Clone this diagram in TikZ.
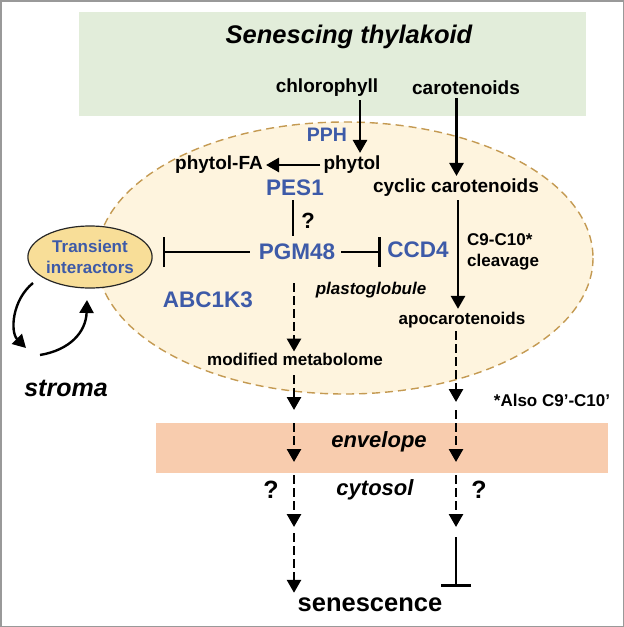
\documentclass[tikz,border=0pt]{standalone}
\usepackage{fontspec}
\setmainfont{Liberation Sans}
\usetikzlibrary{arrows.meta,shapes.geometric}
\definecolor{thylgreen}{HTML}{E2EDDA}
\definecolor{globfill}{HTML}{FEF4DE}
\definecolor{globline}{HTML}{C49A52}
\definecolor{tifill}{HTML}{F8DE98}
\definecolor{envfill}{HTML}{F8CCAE}
\definecolor{enzblue}{HTML}{3D5AA8}
\tikzset{
 lbl/.style={inner sep=3pt, font=\fontsize{19}{21}\selectfont\bfseries},
 sml/.style={inner sep=3pt, font=\fontsize{17}{19}\selectfont\bfseries},
 enz/.style={inner sep=3pt, text=enzblue, font=\fontsize{22.5}{24}\selectfont\bfseries},
 itl/.style={inner sep=3pt, font=\fontsize{22}{24}\selectfont\bfseries\itshape},
 arr/.style={line width=2.7pt, -{Triangle[length=13pt,width=14pt]}},
 darr/.style={arr, dash pattern=on 9pt off 4pt},
 inh/.style={line width=2.7pt, -{Bar[width=30pt,line width=2.7pt]}}
}
\begin{document}
\begin{tikzpicture}[x=1pt, y=-1pt]
 \useasboundingbox (0,0) rectangle (624,627);
 \draw [gray!80, line width=1.5pt] (0.75,0.75) rectangle (623.25,626.25);
 \fill [thylgreen] (79,12) rectangle (586,116);
 \fill [envfill] (156,423) rectangle (608,473);
 \draw [globline, fill=globfill, line width=1.4pt, dash pattern=on 8pt off 5pt]
  (345,258) ellipse [x radius=248, y radius=136];
 \node [itl, font=\fontsize{25.5}{27}\selectfont\bfseries\itshape] (thyl) at (349,37) {Senescing thylakoid};
 \node [lbl] (chl) at (327,88) {chlorophyll};
 \node [lbl] (car) at (466,88) {carotenoids};
 \node [enz, font=\fontsize{19.5}{21}\selectfont\bfseries] (pph) at (327,135) {PPH};
 \node [lbl] (phytol) at (352,165) {phytol};
 \node [lbl] (pfa) at (219,165) {phytol-FA};
 \node [enz] (pes) at (295,188) {PES1};
 \node [lbl] (cyc) at (456,188) {cyclic carotenoids};
 \node [lbl, font=\fontsize{22}{24}\selectfont\bfseries] (q1) at (308,221) {?};
 \node [enz] (pgm) at (297,252) {PGM48};
 \node [enz] (ccd) at (418,250) {CCD4};
 \node [ellipse, draw=black!85, fill=tifill, line width=1.2pt, minimum width=100pt, minimum height=62pt,
  inner sep=0pt, text=enzblue, align=center, font=\fontsize{17}{21}\selectfont\bfseries] (ti) at (90,257) {Transient\\interactors};
 \node [sml, anchor=west] (c910) at (464,240) {C9-C10*};
 \node [sml, anchor=west] (clv) at (464,262) {cleavage};
 \node [itl, font=\fontsize{17}{19}\selectfont\bfseries\itshape] (plg) at (371,290) {plastoglobule};
 \node [enz] (abc) at (208,300) {ABC1K3};
 \node [sml] (apo) at (462,320) {apocarotenoids};
 \node [sml] (mm) at (295,359) {modified metabolome};
 \node [sml] (also) at (552,400) {*Also C9'-C10'};
 \node [itl, font=\fontsize{25}{27}\selectfont\bfseries\itshape] (stroma) at (66,388) {stroma};
 \node [itl] (env) at (379,442) {envelope};
 \node [itl] (cyt) at (375,490) {cytosol};
 \node [itl, font=\fontsize{25}{27}\selectfont\bfseries] (q2) at (271,490) {?};
 \node [itl, font=\fontsize{25}{27}\selectfont\bfseries] (q3) at (479,490) {?};
 \node [itl, font=\fontsize{25.5}{27}\selectfont\bfseries] (sen) at (370,605) {senescence};
 \coordinate (la) at (294,375);
 \coordinate (lb) at (294,410);
 \coordinate (lc) at (294,423);
 \coordinate (ld) at (294,462);
 \coordinate (le) at (294,475);
 \coordinate (lf) at (294,527);
 \coordinate (lg) at (294,533);
 \coordinate (ra) at (456,402);
 \coordinate (rb) at (456,410);
 \coordinate (rc) at (456,462);
 \coordinate (rd) at (456,475);
 \coordinate (re) at (456,527);
 \coordinate (rf) at (456,537);
 \coordinate (rg) at (456,587);
 \draw [arr] ([xshift=33pt]chl.south) -- ([xshift=8pt]phytol.north);
 \draw [arr] ([xshift=-9.5pt]car.south) -- ([xshift=0.5pt]cyc.north);
 \draw [arr] (phytol.west) -- (pfa.east);
 \draw [line width=2.7pt, shorten <=1pt, shorten >=5pt] ([xshift=-2pt]pes.south) -- ([xshift=-4pt]pgm.north);
 \draw [inh, shorten <=6pt, shorten >=10pt] (pgm.west) -- (ti.east |- pgm.west);
 \draw [inh, shorten <=3pt, shorten >=3pt] (pgm.east) -- (ccd.west |- pgm.east);
 \draw [arr] ([xshift=2pt]cyc.south) -- ([xshift=-4pt]apo.north);
 \draw [darr, shorten <=20pt, shorten >=-2pt] ([xshift=-3pt]pgm.south) -- ([xshift=-1pt]mm.north);
 \draw [darr] (la) -- (lb);
 \draw [darr] (lc) -- (ld);
 \draw [darr] (le) -- (lf);
 \draw [darr, shorten >=2pt] (lg) -- (lg |- sen.north);
 \draw [darr] ([xshift=-6pt]apo.south) -- (ra);
 \draw [darr] (rb) -- (rc);
 \draw [darr] (rd) -- (re);
 \draw [inh] (rf) -- (rg);
 \draw [arr, line width=2.4pt] (33,283) .. controls (12,300) and (10,332) .. (26,348);
 \draw [arr, line width=2.4pt] (40,355) .. controls (70,350) and (86,332) .. (87,300);
\end{tikzpicture}
\end{document}
